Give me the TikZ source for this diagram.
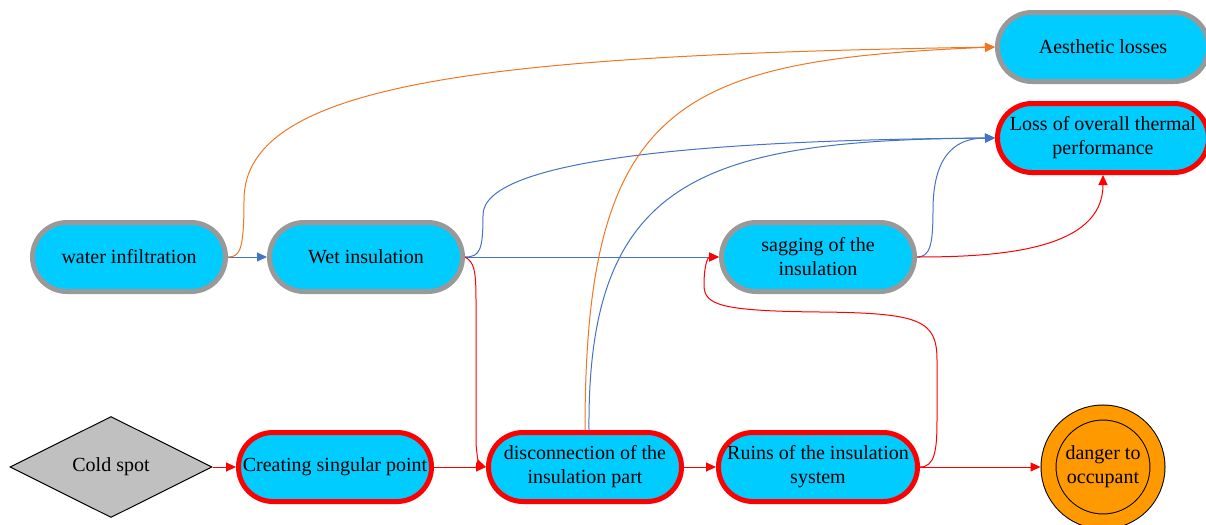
\documentclass[tikz,border=0pt]{standalone}
\usepackage{fontspec}
\setmainfont{Liberation Serif}
\usetikzlibrary{arrows.meta,shapes.geometric}
\definecolor{DefectCyan}{HTML}{00CCFF}
\definecolor{DefectGray}{HTML}{999999}
\definecolor{DefectRed}{HTML}{FF0000}
\definecolor{DefectOrange}{HTML}{FF9900}
\definecolor{DefectSilver}{HTML}{C0C0C0}
\definecolor{LinkBlue}{HTML}{4472C4}
\definecolor{LinkOrange}{HTML}{F07622}
\tikzset{
  defect/.style={
    rectangle,
    rounded corners=17.25pt,
    draw=DefectGray,
    fill=DefectCyan,
    line width=2.5pt,
    minimum width=96.5pt,
    minimum height=34.5pt,
    inner sep=1pt,
    align=center,
    font=\fontsize{10}{12}\selectfont
  },
  critical/.style={defect,draw=DefectRed},
  origin/.style={
    diamond,
    aspect=2,
    draw=black,
    fill=DefectSilver,
    line width=.5pt,
    minimum width=101pt,
    minimum height=50.5pt,
    inner sep=0pt,
    font=\fontsize{10}{12}\selectfont
  },
  hazard/.style={
    circle,
    draw=black,
    fill=DefectOrange,
    line width=.5pt,
    double=DefectOrange,
    double distance=7pt,
    minimum size=54.5pt,
    inner sep=0pt,
    outer sep=4pt,
    align=center,
    font=\fontsize{10}{12}\selectfont
  },
  link/.style={-{Triangle[length=5pt,width=4.5pt]},line width=.5pt},
  bluelink/.style={link,draw=LinkBlue},
  orangelink/.style={link,draw=LinkOrange},
  redlink/.style={link,draw=DefectRed}
}

\begin{document}
\begin{tikzpicture}[x=.5pt,y=-.5pt]
  \useasboundingbox (0,0) rectangle (1206,525);

  % Consequences on the right.
  \node[defect,minimum width=105.5pt]   (aesthetic) at (1103,47)  {Aesthetic losses};
  \node[critical,minimum width=105.5pt] (thermal)   at (1103,138) {Loss of overall thermal\\performance};

  % Middle row: water path.
  \node[defect] (water)   at (129,257) {water infiltration};
  \node[defect] (wet)     at (366,257) {Wet insulation};
  \node[defect] (sagging) at (818,257) {sagging of the\\insulation};

  % Bottom row: thermal bridge path.
  \node[origin]                          (cold)       at (111,467)  {Cold spot};
  \node[critical]                        (singular)   at (335,467)  {Creating singular point};
  \node[critical]                        (disconnect) at (585,467)  {disconnection of the\\insulation part};
  \node[critical,minimum width=99.5pt]   (ruins)      at (818,467)  {Ruins of the insulation\\system};
  \node[hazard]                          (danger)     at (1103,467) {danger to\\occupant};

  \draw[bluelink] (water) -- (wet);
  \draw[orangelink] (water.east) .. controls (240,257) and (244,250) .. (244,200)
    .. controls (244,80) and (500,55) .. (aesthetic.west);

  \draw[bluelink] (wet) -- (sagging);
  \draw[bluelink] (wet.east) .. controls (480,257) and (483,250) .. (483,215)
    .. controls (483,160) and (700,140) .. (thermal.west);
  \draw[redlink] (wet.east) .. controls (474,262) and (476,270) .. (476,300)
    -- (476,440) .. controls (476,455) and (480,465) .. (disconnect.west);

  \draw[redlink] (cold) -- (singular);
  \draw[redlink] (singular) -- (disconnect);

  \draw[orangelink] (disconnect.north) .. controls (585,100) and (680,60) .. (aesthetic.west);
  \draw[bluelink] ([xshift=2]disconnect.north) .. controls (587,180) and (700,140) .. (thermal.west);
  \draw[redlink] (disconnect) -- (ruins);

  \draw[redlink] (ruins.east) .. controls (935,467) and (937,450) .. (937,420)
    -- (937,360) .. controls (937,320) and (920,313) .. (820,312)
    .. controls (720,311) and (704,305) .. (704,285)
    .. controls (704,265) and (708,257) .. (sagging.west);
  \draw[redlink] (ruins) -- (danger);

  \draw[bluelink] (sagging.east) .. controls (930,257) and (933,245) .. (933,210)
    .. controls (933,150) and (960,138) .. (thermal.west);
  \draw[redlink] (sagging.east) .. controls (1000,257) and (1103,250) .. (thermal.south);
\end{tikzpicture}
\end{document}
